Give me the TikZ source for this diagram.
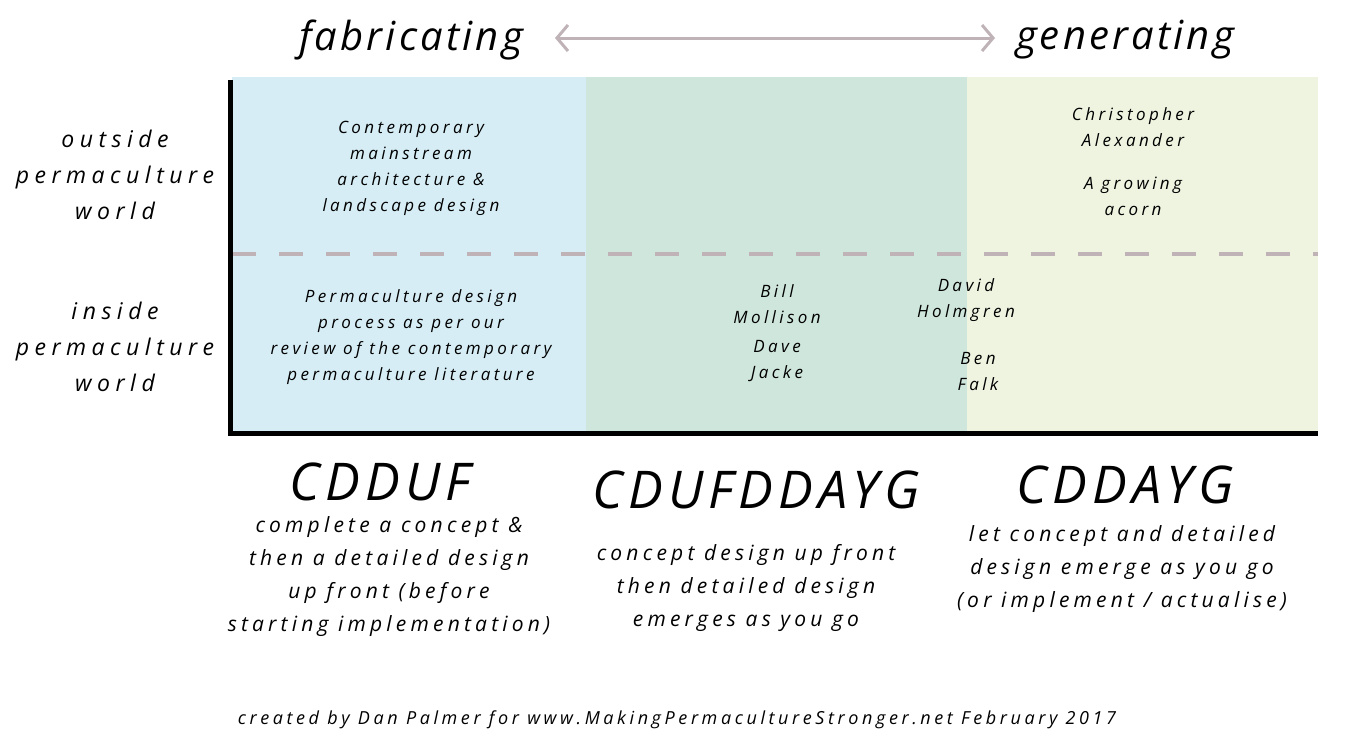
\documentclass[tikz,border=0pt]{standalone}
\usepackage{fontspec}
\setmainfont{Open Sans}
\usetikzlibrary{arrows.meta}
\definecolor{cblue}{HTML}{D6EDF5}
\definecolor{cgreen}{HTML}{CFE6DC}
\definecolor{clight}{HTML}{EEF4E0}
\definecolor{cmauve}{HTML}{BFB3B8}
\newfontfamily\handA[LetterSpace=20]{Open Sans}
\newfontfamily\handB[LetterSpace=24]{Open Sans}
\newfontfamily\handC[LetterSpace=8]{Open Sans}
\newfontfamily\handD[LetterSpace=10]{Open Sans}
\tikzset{
  hand/.style={align=center, inner sep=0pt, text=black},
  small/.style={hand, font=\fontsize{17}{26}\handA\itshape},
  side/.style={hand, font=\fontsize{23}{36}\handB\itshape},
  desc/.style={hand, font=\fontsize{21}{33}\handA\itshape},
  big/.style={hand, font=\fontsize{40}{40}\handC\itshape},
  code/.style={hand, font=\fontsize{52}{52}\handD\itshape},
}
\begin{document}
\begin{tikzpicture}[x=1pt,y=-1pt]
\useasboundingbox (0,0) rectangle (1368,744);
% regions
\fill[cblue] (232,77) rectangle (586,433);
\fill[cgreen] (586,77) rectangle (967,433);
\fill[clight] (967,77) rectangle (1318,433);
% dashed separator
\coordinate (dl) at (232,254);
\coordinate (dr) at (1318,254);
\draw[cmauve, line width=4pt, dash pattern=on 24pt off 23pt] (dl) -- (dr);
% axes
\coordinate (ytop) at (230,80);
\coordinate (origin) at (230,433);
\coordinate (xend) at (1318,433);
\draw[black, line width=5pt] (ytop) -- (origin) -- (xend);
% top labels and arrow
\node[big] (fab) at (411,40) {fabricating};
\node[big] (gen) at (1125,40) {generating};
\coordinate (al) at (555,38);
\coordinate (ar) at (995,38);
\draw[cmauve, line width=3pt, {Straight Barb[length=11pt,width=26pt]}-{Straight Barb[length=11pt,width=26pt]}] (al) -- (ar);
% side labels
\node[side] (outside) at (115,175) {outside\\permaculture\\world};
\node[side] (inside) at (115,347) {inside\\permaculture\\world};
% cell texts
\node[small] (cont) at (411,168) {Contemporary\\mainstream\\architecture \&\\landscape design};
\node[small] (perm) at (411,337) {Permaculture design\\process as per our\\review of the contemporary\\permaculture literature};
\node[small] (bill) at (777,304) {Bill\\Mollison};
\node[small] (dave) at (777,361) {Dave\\Jacke};
\node[small] (david) at (966,300) {David\\Holmgren};
\node[small] (ben) at (978,372) {Ben\\Falk};
\node[small] (chris) at (1133,127) {Christopher\\Alexander};
\node[small] (acorn) at (1133,196) {A growing\\acorn};
% bottom codes
\node[code] (c1) at (380,482) {CDDUF};
\node[code] (c2) at (756,490) {CDUFDDAYG};
\node[code] (c3) at (1125,485) {CDDAYG};
\node[desc] (d1) at (389,577) {complete a concept \&\\then a detailed design\\up front (before\\starting implementation)};
\node[desc] (d2) at (746,588) {concept design up front\\then detailed design\\emerges as you go};
\node[desc] (d3) at (1122,569) {let concept and detailed\\design emerge as you go\\(or implement / actualise)};
% footer
\node[hand, font=\fontsize{18}{18}\handA\itshape] (foot) at (677,720) {created by Dan Palmer for www.MakingPermacultureStronger.net February 2017};
\end{tikzpicture}
\end{document}
